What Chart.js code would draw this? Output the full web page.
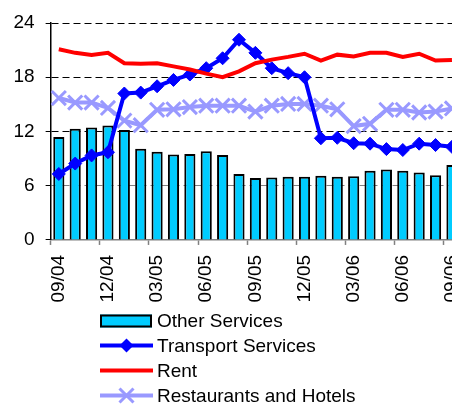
<!DOCTYPE html>
<html>
<head>
<meta charset="utf-8">
<script src="https://cdn.jsdelivr.net/npm/chart.js@4/dist/chart.umd.min.js"></script>
<style>
html,body{margin:0;padding:0;background:#fff;overflow:hidden;}
#wrap{position:relative;width:485px;height:404px;}
</style>
</head>
<body>
<div id="wrap"><canvas id="c" width="485" height="404"></canvas></div>
<script>
const categories = ['09/04','10/04','11/04','12/04','01/05','02/05','03/05','04/05','05/05','06/05','07/05','08/05','09/05','10/05','11/05','12/05','01/06','02/06','03/06','04/06','05/06','06/06','07/06','08/06','09/06'];
const otherServices = [11.4,12.3,12.45,12.65,12.15,10.1,9.75,9.45,9.5,9.8,9.4,7.3,6.85,6.9,7.0,7.0,7.1,7.0,7.05,7.65,7.8,7.65,7.45,7.15,8.3];
const transportServices = [7.3,8.45,9.35,9.7,16.2,16.3,17.0,17.7,18.3,19.0,20.1,22.15,20.7,19.0,18.45,18.0,11.25,11.3,10.7,10.65,10.05,9.95,10.65,10.5,10.3];
const rent = [21.1,20.7,20.45,20.7,19.55,19.5,19.55,19.2,18.85,18.4,18.0,18.65,19.55,19.95,20.25,20.6,19.85,20.5,20.3,20.7,20.7,20.25,20.6,19.85,19.9];
const restaurantsHotels = [15.7,15.2,15.2,14.6,13.2,12.7,14.4,14.45,14.7,14.85,14.85,14.85,14.2,14.85,15.05,15.05,14.85,14.45,12.6,12.85,14.4,14.4,14.1,14.2,14.55];
const yTicks = [0,6,12,18,24];
const legendLabels = ['Other Services','Transport Services','Rent','Restaurants and Hotels'];

const FONT = "'Liberation Sans', Arial, sans-serif";
const CYAN = 'rgb(0,204,255)';
const BLUE = 'rgb(0,0,255)';
const RED = 'rgb(255,0,0)';
const LAV = 'rgb(153,153,255)';

const legendPlugin = {
  id: 'customLegend',
  afterDraw(chart) {
    const ctx = chart.ctx;
    const x0 = 100, w = 53, tx = 157;
    const rows = [321, 345.5, 370.5, 395.5];
    ctx.save();
    ctx.fillStyle = CYAN;
    ctx.fillRect(x0, rows[0] - 6.5, 52, 13);
    ctx.lineWidth = 2;
    ctx.strokeStyle = '#000';
    ctx.strokeRect(x0 + 1, rows[0] - 5.5, 50, 11);
    const lines = [[BLUE, rows[1]], [RED, rows[2]], [LAV, rows[3]]];
    for (const [col, y] of lines) {
      ctx.beginPath();
      ctx.strokeStyle = col;
      ctx.lineWidth = 4;
      ctx.moveTo(x0, y);
      ctx.lineTo(x0 + w, y);
      ctx.stroke();
    }
    const cx = x0 + w / 2;
    ctx.fillStyle = BLUE;
    ctx.beginPath();
    const r = 7;
    ctx.moveTo(cx, rows[1] - r);
    ctx.lineTo(cx + r, rows[1]);
    ctx.lineTo(cx, rows[1] + r);
    ctx.lineTo(cx - r, rows[1]);
    ctx.closePath();
    ctx.fill();
    ctx.strokeStyle = LAV;
    ctx.lineWidth = 3;
    const d = 7;
    ctx.beginPath();
    ctx.moveTo(cx - d, rows[3] - d); ctx.lineTo(cx + d, rows[3] + d);
    ctx.moveTo(cx + d, rows[3] - d); ctx.lineTo(cx - d, rows[3] + d);
    ctx.stroke();
    ctx.fillStyle = '#000';
    ctx.font = '19px ' + FONT;
    ctx.textBaseline = 'middle';
    ctx.textAlign = 'left';
    legendLabels.forEach((t, i) => ctx.fillText(t, tx, rows[i] + 1));
    ctx.restore();
  }
};

new Chart(document.getElementById('c'), {
  type: 'bar',
  data: {
    labels: categories,
    datasets: [
      {
        type: 'line', label: legendLabels[2], data: rent, order: 0,
        borderColor: RED, backgroundColor: RED, borderWidth: 4, pointRadius: 0, tension: 0
      },
      {
        type: 'line', label: legendLabels[1], data: transportServices, order: 1,
        borderColor: BLUE, backgroundColor: BLUE, borderWidth: 4, tension: 0,
        pointStyle: 'rectRot', pointRadius: 6.5, pointBackgroundColor: BLUE, pointBorderColor: BLUE, pointBorderWidth: 1
      },
      {
        type: 'line', label: legendLabels[3], data: restaurantsHotels, order: 2,
        borderColor: LAV, backgroundColor: LAV, borderWidth: 4, tension: 0,
        pointStyle: 'crossRot', pointRadius: 10, pointBorderColor: LAV, pointBorderWidth: 3
      },
      {
        type: 'bar', label: legendLabels[0], data: otherServices, order: 3,
        backgroundColor: CYAN, borderColor: '#000', borderWidth: 2,
        barPercentage: 0.68, categoryPercentage: 1
      }
    ]
  },
  options: {
    responsive: false,
    animation: false,
    devicePixelRatio: 1,
    layout: { padding: { left: 2.5, top: 23, right: 0, bottom: 91.5 } },
    plugins: { legend: { display: false }, tooltip: { enabled: false } },
    scales: {
      x: {
        type: 'category',
        offset: true,
        grid: {
          offset: true,
          drawOnChartArea: false,
          drawTicks: true,
          tickLength: 5,
          tickColor: (c) => (c.index % 3 === 0 ? '#808080' : 'rgba(0,0,0,0)'),
          tickWidth: 1.5
        },
        border: { display: true, color: '#808080', width: 1.5 },
        ticks: {
          autoSkip: false,
          maxRotation: 90,
          minRotation: 90,
          padding: 10,
          color: '#000',
          font: { size: 19, family: FONT },
          callback: function (v, i) { return i % 3 === 0 ? categories[i] : ''; }
        }
      },
      y: {
        min: 0, max: 24,
        afterBuildTicks: (s) => { s.ticks = yTicks.map(v => ({ value: v })); },
        grid: {
          drawOnChartArea: true,
          drawTicks: true,
          tickLength: 5,
          color: (c) => (c.tick && c.tick.value === 6 ? '#808080' : (c.tick && c.tick.value === 0 ? 'rgba(0,0,0,0)' : '#000')),
          tickColor: '#000',
          lineWidth: 1
        },
        border: { display: true, color: '#000', width: 1.5, dash: [7, 4] },
        ticks: {
          padding: 11,
          color: '#000',
          font: { size: 19, family: FONT }
        }
      }
    }
  },
  plugins: [legendPlugin]
});
</script>
</body>
</html>
